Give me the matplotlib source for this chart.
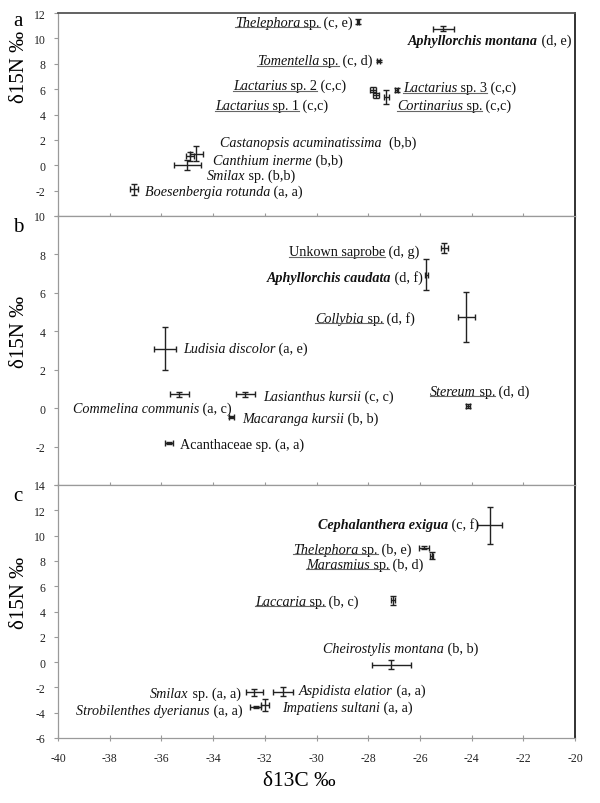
import matplotlib
matplotlib.use("Agg")
import matplotlib.pyplot as plt
from matplotlib.lines import Line2D

plt.rcParams["font.family"] = ["Liberation Serif", "DejaVu Serif"]

# ---- panel a ----
a_labels = [
    [("Thelephora", "i", 1), (" sp.", "r", 1), (" (c, e)", "r", 0)],
    [("Aphyllorchis montana", "bi", 0), (" (d, e)", "r", 0)],
    [("Tomentella", "i", 1), (" sp.", "r", 1), (" (c, d)", "r", 0)],
    [("Lactarius", "i", 1), (" sp. 2", "r", 1), (" (c,c)", "r", 0)],
    [("Lactarius", "i", 1), (" sp. 1", "r", 1), (" (c,c)", "r", 0)],
    [("Lactarius", "i", 1), (" sp. 3", "r", 1), (" (c,c)", "r", 0)],
    [("Cortinarius", "i", 1), (" sp.", "r", 1), (" (c,c)", "r", 0)],
    [("Castanopsis acuminatissima", "i", 0), ("  (b,b)", "r", 0)],
    [("Canthium inerme", "i", 0), (" (b,b)", "r", 0)],
    [("Smilax", "i", 0), (" sp. (b,b)", "r", 0)],
    [("Boesenbergia rotunda", "i", 0), (" (a, a)", "r", 0)],
]
a_x = [-28.4, -25.1, -27.6, -27.8, -27.7, -26.9, -27.3, -34.9, -34.65, -35.0, -37.05]
a_y = [11.3, 10.75, 8.2, 5.95, 5.5, 5.95, 5.4, 0.7, 0.9, 0.0, -1.9]
a_xerr = [0.05, 0.4, 0.05, 0.12, 0.1, 0.05, 0.1, 0.15, 0.25, 0.52, 0.16]
a_yerr = [0.2, 0.2, 0.1, 0.2, 0.2, 0.15, 0.55, 0.35, 0.6, 0.4, 0.45]
a_lx = [-33.15, -26.46, -32.30, -33.23, -33.93, -26.65, -26.89, -33.73, -34.0, -34.24, -36.63]
a_ly = [11.29, 9.87, 8.22, 6.25, 4.67, 6.09, 4.67, 1.83, 0.34, -0.77, -2.03]

# ---- panel b ----
b_labels = [
    [("Unkown saprobe", "r", 1), (" (d, g)", "r", 0)],
    [("Aphyllorchis caudata", "bi", 0), (" (d, f)", "r", 0)],
    [("Collybia", "i", 1), (" sp.", "r", 1), (" (d, f)", "r", 0)],
    [("Ludisia discolor", "i", 0), (" (a, e)", "r", 0)],
    [("Lasianthus kursii", "i", 0), (" (c, c)", "r", 0)],
    [("Commelina communis", "i", 0), (" (a, c)", "r", 0)],
    [("Macaranga kursii", "i", 0), (" (b, b)", "r", 0)],
    [("Acanthaceae sp. (a, a)", "r", 0)],
    [("Stereum", "i", 1), (" sp.", "r", 1), (" (d, d)", "r", 0)],
]
b_x = [-25.05, -25.75, -24.2, -35.85, -32.75, -35.3, -33.3, -35.7, -24.15]
b_y = [8.35, 6.95, 4.72, 3.1, 0.72, 0.72, -0.45, -1.82, 0.12]
b_xerr = [0.12, 0.05, 0.32, 0.43, 0.38, 0.38, 0.1, 0.15, 0.07]
b_yerr = [0.25, 0.82, 1.3, 1.1, 0.13, 0.13, 0.05, 0.05, 0.1]
b_lx = [-31.06, -31.92, -30.06, -35.16, -32.07, -39.42, -32.88, -35.28, -25.61]
b_ly = [8.13, 6.82, 4.69, 3.13, 0.63, 0.0, -0.52, -1.88, 0.89]

# ---- panel c ----
c_labels = [
    [("Cephalanthera exigua", "bi", 0), (" (c, f)", "r", 0)],
    [("Thelephora", "i", 1), (" sp.", "r", 1), (" (b, e)", "r", 0)],
    [("Marasmius", "i", 1), (" sp.", "r", 1), (" (b, d)", "r", 0)],
    [("Laccaria", "i", 1), (" sp.", "r", 1), (" (b, c)", "r", 0)],
    [("Cheirostylis montana", "i", 0), (" (b, b)", "r", 0)],
    [("Aspidista elatior", "i", 0), (" (a, a)", "r", 0)],
    [("Impatiens sultani", "i", 0), (" (a, a)", "r", 0)],
    [("Smilax", "i", 0), (" sp. (a, a)", "r", 0)],
    [("Strobilenthes dyerianus", "i", 0), (" (a, a)", "r", 0)],
]
c_x = [-23.3, -25.85, -25.55, -27.05, -27.1, -31.3, -32.0, -32.4, -32.35]
c_y = [10.8, 9.05, 8.4, 4.9, -0.2, -2.33, -3.4, -2.38, -3.55]
c_xerr = [0.48, 0.2, 0.05, 0.07, 0.77, 0.4, 0.15, 0.32, 0.22]
c_yerr = [1.45, 0.1, 0.27, 0.35, 0.33, 0.33, 0.5, 0.28, 0.1]
c_lx = [-29.94, -30.91, -30.41, -32.38, -29.75, -30.68, -31.33, -36.44, -39.3]
c_ly = [10.9, 8.9, 7.72, 4.79, 1.06, -2.28, -3.55, -2.52, -3.79]

xticks = list(range(-40, -19, 2))
panels = [
    ("a", (-4, 12), a_labels, a_x, a_y, a_xerr, a_yerr, a_lx, a_ly),
    ("b", (-4, 10), b_labels, b_x, b_y, b_xerr, b_yerr, b_lx, b_ly),
    ("c", (-6, 14), c_labels, c_x, c_y, c_xerr, c_yerr, c_lx, c_ly),
]

W, H = 600, 804
fig = plt.figure(figsize=(W / 100, H / 100), dpi=100)
left, right = 58, 575
edges = [(14, 217), (217, 486), (486, 739)]
label_fs = 10.2
styles = {
    "r": dict(style="normal", weight="normal"),
    "i": dict(style="italic", weight="normal"),
    "bi": dict(style="italic", weight="bold"),
}
grey = "#9a9a9a"

all_pieces = []
for (letter, ylim, labels, xs, ys, xe, ye, lx, ly), (top, bot) in zip(panels, edges):
    ax = fig.add_axes([left / W, 1 - bot / H, (right - left) / W, (bot - top) / H])
    ax.errorbar(xs, ys, xerr=xe, yerr=ye, fmt="none", ecolor="#222222",
                elinewidth=1, capsize=2.5, capthick=1)
    ax.set_xlim(-40, -20)
    ax.set_ylim(*ylim)
    yt = list(range(ylim[0], ylim[1] + 1, 2))
    ax.set_yticks(yt)
    ax.set_yticklabels(["" if (v == ylim[0] and letter != "c") else str(v) for v in yt])
    ax.set_xticks(xticks)
    if letter == "c":
        ax.set_xticklabels([str(v) for v in xticks])
    else:
        ax.set_xticklabels([])
    ax.tick_params(axis="y", direction="out", length=3, color=grey,
                   labelsize=8.5, labelcolor="#222222", pad=6)
    ax.tick_params(axis="x", direction="inout", length=4, color=grey,
                   labelsize=8.5, labelcolor="#222222", pad=8)
    for s in ("left", "bottom", "top"):
        ax.spines[s].set_color(grey)
        ax.spines[s].set_linewidth(0.9)
    ax.spines["right"].set_color("#222222")
    ax.spines["right"].set_linewidth(1.3)
    if letter == "a":
        ax.spines["top"].set_color("#555555")
        ax.spines["top"].set_linewidth(1.3)

    for pieces, x0, y0 in zip(labels, lx, ly):
        prev = None
        group = []
        for txt, st, ul in pieces:
            kw = dict(fontsize=label_fs, color="#111111", **styles[st])
            if prev is None:
                t = ax.text(x0, y0, txt, ha="left", va="center", **kw)
            else:
                t = ax.annotate(txt, xy=(1, 0), xycoords=prev, ha="left",
                                va="bottom", **kw)
            group.append((t, ul))
            prev = t
        all_pieces.append(group)

    fig.text(18 / W, 1 - ({"a": 22, "b": 228, "c": 497}[letter]) / H, letter,
             fontsize=15, ha="center", va="center")

# y axis labels
for ycen in (67, 332, 593):
    fig.text(20 / W, 1 - ycen / H, "δ15N ‰", rotation=90, fontsize=15,
             ha="center", va="center")
fig.text(299 / W, 1 - 782 / H, "δ13C ‰", fontsize=15.5, ha="center", va="center")

# underline marked pieces
fig.canvas.draw()
rend = fig.canvas.get_renderer()
for group in all_pieces:
    run = []
    for t, ul in group + [(None, 0)]:
        if ul:
            run.append(t.get_window_extent(rend))
        elif run:
            x0 = min(b.x0 for b in run)
            x1 = max(b.x1 for b in run)
            yb = min(b.y0 for b in run) + 1.6
            fig.add_artist(Line2D([x0 / W, x1 / W], [yb / H, yb / H],
                                  transform=fig.transFigure, color="#666666",
                                  lw=0.8))
            run = []

fig.savefig("out.png", dpi=100)
